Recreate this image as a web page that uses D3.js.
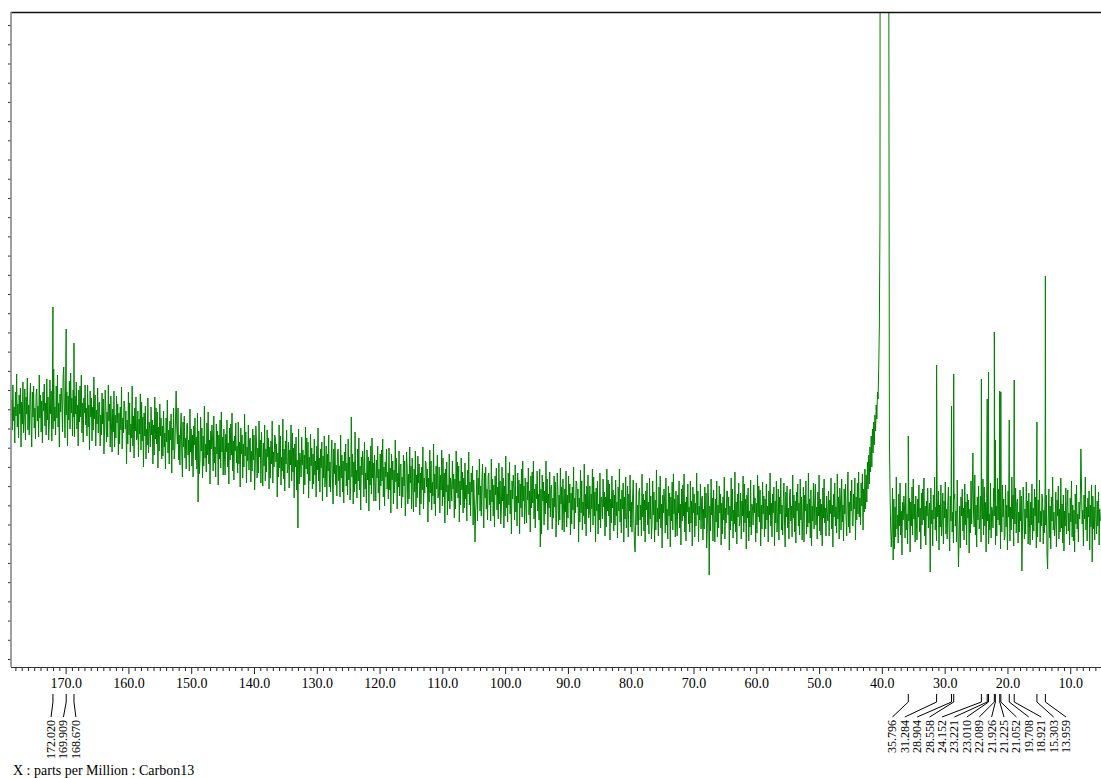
<!DOCTYPE html>
<html><head><meta charset="utf-8">
<script src="https://cdn.jsdelivr.net/npm/d3@7"></script>
<style>body{margin:0;background:#fff;} svg{display:block;} text{font-family:"Liberation Serif","Times New Roman",serif;}</style>
</head><body>
<script>
// ---- data ----
const xTickLabels = [170,160,150,140,130,120,110,100,90,80,70,60,50,40,30,20,10];
const xTitle = "X : parts per Million : Carbon13";
const ppmStep = 0.1;
const leftStartPpm = 178.6;
const leftVals = [
267,237,282,246,260,224,275,251,293,240,263,229,272,253,279,220,265,243,285,234,
249,278,227,270,253,289,237,262,232,267,284,243,220,275,250,281,239,259,228,272,
278,246,261,230,292,249,272,235,266,224,275,256,283,241,264,232,288,247,270,227,
244,287,253,276,226,268,238,298,246,260,232,281,249,292,240,264,220,273,255,279,
266,235,290,300,259,229,282,252,275,221,271,247,286,238,294,254,269,231,277,250,
230,271,253,285,238,262,221,277,245,281,250,292,234,264,225,269,254,282,242,259,
231,282,240,262,217,276,250,269,226,260,237,290,248,272,221,257,243,279,234,264,
265,221,252,232,274,243,268,213,236,277,260,225,255,230,282,246,263,220,271,242,
215,258,235,276,220,252,229,271,244,263,212,254,223,260,237,280,218,249,234,266,
262,238,256,203,247,223,275,232,264,215,243,229,281,221,251,209,259,236,270,227,
229,256,210,248,233,273,217,265,226,250,200,254,231,261,208,238,222,269,214,245,
237,220,260,232,247,203,242,212,270,228,259,223,255,199,240,216,263,231,249,208,
241,211,256,220,234,198,249,225,267,214,237,203,246,227,253,194,239,217,259,208,
219,248,276,240,223,259,207,232,202,237,254,213,190,245,220,251,209,229,198,242,
244,212,227,196,258,215,238,201,232,190,241,222,249,207,230,198,254,165,236,193,
207,250,216,239,189,231,201,261,209,223,195,244,212,255,203,227,183,236,218,242,
227,196,251,204,220,190,243,213,236,182,232,208,247,199,255,215,230,192,238,211,
192,233,215,247,200,224,183,239,207,243,212,254,196,226,187,231,216,244,204,221,
194,245,203,225,180,239,213,232,189,223,200,253,211,235,184,220,206,242,197,227,
229,185,216,196,238,207,232,177,200,241,224,189,219,194,246,210,227,184,235,206,
181,224,201,242,186,218,195,237,210,229,178,220,189,226,203,246,184,215,200,232,
229,205,223,170,214,190,242,199,231,182,210,196,248,188,218,176,226,203,237,194,
198,225,179,217,202,242,186,234,195,219,169,223,200,230,177,207,139,238,183,214,
207,190,230,202,217,173,212,182,240,198,229,193,225,169,210,186,233,201,219,178,
213,183,228,192,206,170,221,197,239,186,209,175,218,199,225,166,211,189,231,180,
192,221,170,213,196,232,180,205,175,210,227,186,163,218,193,224,182,202,171,215,
218,186,201,170,232,189,212,175,206,164,215,196,223,181,204,172,228,187,210,167,
181,250,190,213,163,205,175,235,183,197,169,218,186,229,177,201,157,210,192,216,
201,170,225,178,194,164,217,187,210,156,206,182,221,173,229,189,204,166,212,185,
166,207,189,221,174,198,157,213,181,217,186,228,170,200,161,205,190,218,178,195,
168,219,177,199,154,213,187,206,163,197,174,227,185,209,158,194,180,216,171,201,
203,159,190,170,212,181,206,151,174,215,198,163,193,168,220,184,201,158,209,180,
155,198,175,216,160,192,169,211,184,203,152,194,163,200,177,220,158,189,174,206,
204,180,198,145,189,165,217,174,206,157,185,171,223,163,193,151,201,178,212,169,
173,200,154,192,177,217,161,209,170,194,144,198,175,205,152,182,166,213,158,189,
183,166,206,178,193,149,188,158,216,174,205,169,201,145,186,162,209,177,195,154,
189,159,204,168,182,146,197,173,215,162,185,151,194,175,201,142,187,165,125,156,
168,197,146,189,172,208,156,181,151,186,203,162,139,194,169,200,158,178,147,191,
194,162,177,146,208,165,188,151,182,140,191,172,199,157,180,148,204,163,186,143,
157,200,166,189,139,181,151,211,159,173,145,194,162,205,153,177,133,186,168,192,
178,147,202,155,171,141,194,164,187,133,183,159,198,150,206,166,181,143,189,162,
144,185,167,199,152,176,135,191,159,195,164,206,148,178,139,183,168,196,156,173,
147,198,120,178,133,192,166,185,142,176,153,206,164,188,137,173,159,195,150,180,
182,138,169,149,191,160,185,130,153,194,177,142,172,147,199,163,180,137,188,159,
135,178,155,196,140,172,149,191,164,183,132,174,143,180,157,200,138,169,154,186,
184,160,178,125,169,145,197,154,186,137,165,151,203,143,173,131,181,158,192,149,
154,181,135,173,158,198,142,190,151,175,125,179,156,186,133,163,147,194,139,170,
165,148,188,160,175,131,170,140,198,156,187,151,183,127,168,144,191,159,177,136,
172,142,187,151,165,129,180,156,198,145,168,134,177,158,184,125,170,148,190,139,
152,181,130,173,156,192,140,165,135,170,187,146,123,115,153,184,142,162,131,175,
179,147,162,131,193,150,173,136,167,125,176,157,184,142,165,133,189,148,171,128,
143,186,152,175,125,167,137,197,145,159,131,180,148,191,139,163,119,172,154,178,
165,134,189,142,158,128,181,151,174,120,170,146,185,137,193,153,168,130,176,149,
131,172,154,186,139,163,122,178,146,182,151,193,135,165,126,170,155,183,143,160,
135,186,144,166,121,180,154,173,130,164,141,194,152,176,125,161,147,183,138,168,
171,127,158,138,180,149,174,119,142,183,166,92,161,136,188,152,169,126,177,148,
125,168,145,186,130,162,139,181,154,173,122,164,133,170,147,190,128,159,144,176,
176,152,170,117,161,137,189,146,178,129,157,143,195,135,165,123,173,150,184,141,
147,174,128,166,151,191,135,183,144,168,118,172,149,179,126,156,140,187,132,163,
159,142,182,154,169,125,164,134,192,150,181,145,177,121,162,138,185,153,171,130,
168,138,183,147,161,125,176,152,194,141,164,130,173,154,180,121,166,144,186,135,
149,178,127,170,153,189,137,162,132,167,184,143,120,175,150,181,139,159,128,172,
178,146,161,130,192,149,172,135,166,124,175,156,183,141,164,132,188,147,170,127,
149,180,125,172,156,186,133,163,140,194,144,168,129,177,121,161,146,184,138,165,
183,142,160,128,175,151,192,136,168,132,163,121,179,149,188,144,159,131,171,154,
146,176,131,167,153,189,138,162,120,173,150,184,141,160,134,193,148,170,128,179,
166,137,188,145,162,126,178,153,183,148,131,172,195,140,165,134,176,156,187,143,
141,173,158,189,127,170,147,184,153,195,150,169,142,184,161,193,137,178,155,198
];
const solventStartPpm = 42.6;
const solventVals = [
158,192,165,205,178,212,183,220,195,231,200,238,214,245,222,252,236,262,248,275,268,300,340,450,
2000,2000,2000,2000,2000,2000,2000,2000,2000,2000,2000,2000,2000,
700,230,175,140,120
];
const rightStartPpm = 38.4;
const rightVals = [
136,179,107,168,118,160,130,190,138,152,124,173,141,184,132,156,112,165,147,171,
160,129,184,137,153,123,176,146,169,115,165,141,180,132,188,148,163,125,171,144,
127,168,150,182,135,159,118,174,142,178,147,189,131,161,122,166,151,179,139,156,
164,95,179,143,157,121,172,148,190,137,160,126,169,150,176,117,162,140,182,131,
145,174,123,166,149,185,133,158,128,163,180,139,116,171,146,177,135,155,124,168,
173,141,156,125,187,144,100,130,161,119,170,151,178,136,159,127,183,142,165,122,
173,149,167,114,158,134,186,143,175,214,154,140,192,132,162,120,170,147,181,138,
144,171,125,163,148,188,132,180,141,165,115,169,146,176,123,153,137,184,129,160,
156,139,179,151,166,122,161,131,189,147,178,142,174,118,159,135,182,150,168,127,
131,182,140,162,117,176,150,169,126,160,137,190,148,172,121,157,143,179,134,164,
168,124,155,135,177,146,171,96,139,180,163,128,158,133,185,149,166,123,174,145,
122,165,142,183,127,159,136,178,151,170,119,161,130,167,144,187,125,156,141,173,
166,123,157,134,184,142,172,112,98,150,178,129,161,118,170,146,190,137,155,131,
144,175,120,167,151,181,128,158,135,189,139,163,124,172,116,156,141,179,133,160,
177,136,154,122,169,145,186,130,162,126,157,115,173,143,182,138,153,125,165,148,
164,218,179,143,157,121,172,148,190,137,160,126,169,150,176,117,162,140,182,105,
171,138,160,127,182,149,133,166,141,175,122,158,146
];
const peakPpm = [172.020,169.909,168.670,35.796,31.284,28.904,28.558,24.152,23.221,23.010,22.089,21.926,21.225,21.052,19.708,18.921,15.303,13.959];
const peakHeight = [360,338,324,231,302,261,293,288,268,295,335,227,276,275,247,287,245,391];

// ---- layout ----
const W = 1101, H = 778;
const L = 11, R = 1101, T = 12, B = 667;
const FONT = "'Liberation Serif','Times New Roman',serif";
const svg = d3.select("body").append("svg").attr("width", W).attr("height", H);

const x = d3.scaleLinear().domain([178.7, 5.1]).range([L, R]);
const y = d3.scaleLinear().domain([0, 655]).range([B, T]);

svg.append("defs").append("clipPath").attr("id","plotclip")
  .append("rect").attr("x", L).attr("y", T).attr("width", R - L).attr("height", B - T);

// spectrum points
const pts = [];
leftVals.forEach((v,i) => pts.push([leftStartPpm - i*ppmStep, v]));
solventVals.forEach((v,i) => pts.push([solventStartPpm - i*ppmStep, v]));
rightVals.forEach((v,i) => pts.push([rightStartPpm - i*ppmStep, v]));
peakPpm.forEach((p,i) => pts.push([p, peakHeight[i]]));
pts.sort((a,b) => b[0] - a[0]);

svg.append("path")
  .attr("clip-path","url(#plotclip)")
  .attr("d", d3.line().x(d => x(d[0])).y(d => y(d[1]))(pts))
  .attr("fill","none").attr("stroke","#008000").attr("stroke-width",1);

// top border
svg.append("line").attr("x1",L).attr("x2",R).attr("y1",T+0.5).attr("y2",T+0.5)
  .attr("stroke","#111").attr("stroke-width",1.5);

// left axis
const yAxis = d3.axisLeft(y).tickValues(d3.range(8, 655, 19.21)).tickSize(3).tickFormat("");
const gy = svg.append("g").attr("transform",`translate(${L},0)`).call(yAxis);
gy.select(".domain").remove();
gy.selectAll(".tick line").attr("stroke","#333");
svg.append("line").attr("x1",L).attr("x2",L).attr("y1",T).attr("y2",B)
  .attr("stroke","#888").attr("stroke-width",1.6);

// bottom axis: minor ticks
const minor = d3.range(6, 179, 1).filter(v => v % 10 !== 0);
const gxm = svg.append("g").attr("transform",`translate(0,${B})`)
  .call(d3.axisBottom(x).tickValues(minor).tickSize(4).tickFormat(""));
gxm.select(".domain").remove();
gxm.selectAll(".tick line").attr("stroke","#222");
// major ticks + labels
const gx = svg.append("g").attr("transform",`translate(0,${B})`)
  .call(d3.axisBottom(x).tickValues(xTickLabels).tickSize(7).tickPadding(4).tickFormat(d3.format(".1f")));
gx.attr("font-family", FONT);
gx.select(".domain").remove();
gx.selectAll(".tick line").attr("stroke","#222");
gx.selectAll(".tick text").style("font-family", FONT).attr("font-size",14).attr("fill","#000");
svg.append("line").attr("x1",L).attr("x2",R).attr("y1",B+0.5).attr("y2",B+0.5)
  .attr("stroke","#333").attr("stroke-width",1.2);

// peak labels
const groups = [];
peakPpm.forEach((p,i) => {
  const g = groups[groups.length-1];
  if (g && g[g.length-1].p - p < 30) g.push({p, i}); else groups.push([{p, i}]);
});
const spacing = 12.4;
groups.forEach(g => {
  const xs = g.map(d => x(d.p));
  const c = (d3.min(xs) + d3.max(xs)) / 2 + (g.length > 5 ? 2.4 : 0);
  g.forEach((d,k) => {
    const lx = c + (k - (g.length-1)/2) * spacing;
    const px = x(d.p);
    svg.append("path").attr("d", `M${px},694 V702 L${lx},717`)
      .attr("fill","none").attr("stroke","#000").attr("stroke-width",1);
    svg.append("text").attr("transform",`translate(${lx},720) rotate(-90)`)
      .attr("text-anchor","end").attr("dominant-baseline","central")
      .style("font-family", FONT)
      .attr("font-size",12).attr("fill","#000")
      .text(d3.format(".3f")(d.p));
  });
});

// x title
svg.append("text").attr("x",13).attr("y",775)
  .style("font-family", FONT)
  .attr("font-size",14).attr("fill","#000").text(xTitle);
</script>
</body></html>
